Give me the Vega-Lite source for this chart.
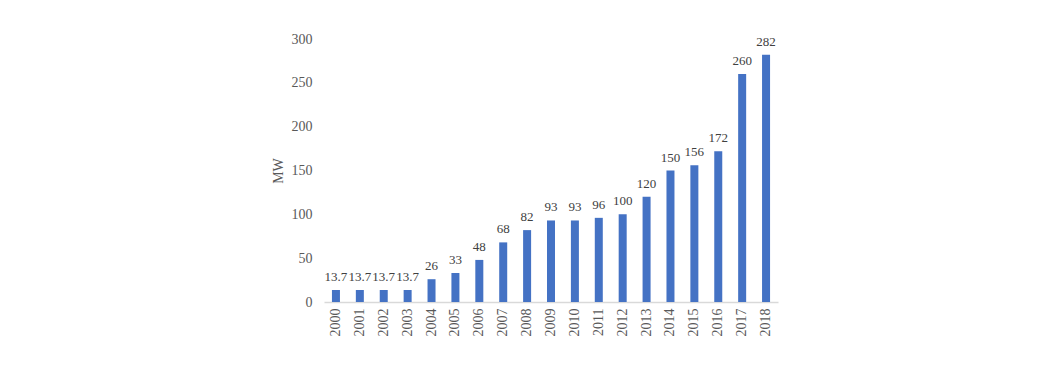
{
  "$schema": "https://vega.github.io/schema/vega-lite/v6.json",
  "autosize": {"type": "none"},
  "padding": {"left": 324, "top": 39, "right": 286, "bottom": 90},
  "width": 454,
  "height": 263,
  "background": "white",
  "config": {
    "view": {"stroke": null},
    "font": "Liberation Serif"
  },
  "data": {
    "values": [
      {"year": "2000", "mw": 13.7, "label": "13.7"},
      {"year": "2001", "mw": 13.7, "label": "13.7"},
      {"year": "2002", "mw": 13.7, "label": "13.7"},
      {"year": "2003", "mw": 13.7, "label": "13.7"},
      {"year": "2004", "mw": 26, "label": "26"},
      {"year": "2005", "mw": 33, "label": "33"},
      {"year": "2006", "mw": 48, "label": "48"},
      {"year": "2007", "mw": 68, "label": "68"},
      {"year": "2008", "mw": 82, "label": "82"},
      {"year": "2009", "mw": 93, "label": "93"},
      {"year": "2010", "mw": 93, "label": "93"},
      {"year": "2011", "mw": 96, "label": "96"},
      {"year": "2012", "mw": 100, "label": "100"},
      {"year": "2013", "mw": 120, "label": "120"},
      {"year": "2014", "mw": 150, "label": "150"},
      {"year": "2015", "mw": 156, "label": "156"},
      {"year": "2016", "mw": 172, "label": "172"},
      {"year": "2017", "mw": 260, "label": "260"},
      {"year": "2018", "mw": 282, "label": "282"}
    ]
  },
  "encoding": {
    "x": {
      "field": "year",
      "type": "ordinal",
      "scale": {"paddingInner": 0.665, "paddingOuter": 0.3325},
      "axis": {
        "title": null,
        "labelAngle": -90,
        "labelFontSize": 14,
        "labelColor": "#595959",
        "labelFont": "Liberation Serif",
        "labelPadding": 6,
        "ticks": false,
        "domainColor": "#d9d9d9",
        "domainWidth": 1.5
      }
    },
    "y": {
      "field": "mw",
      "type": "quantitative",
      "scale": {"domain": [0, 300]},
      "axis": {
        "title": "MW",
        "titleFont": "Liberation Serif",
        "titleFontWeight": "normal",
        "titleFontSize": 14,
        "titleColor": "#595959",
        "titlePadding": 6,
        "values": [0, 50, 100, 150, 200, 250, 300],
        "labelFontSize": 14,
        "labelColor": "#595959",
        "labelFont": "Liberation Serif",
        "labelPadding": 12,
        "ticks": false,
        "domain": false,
        "grid": false
      }
    }
  },
  "layer": [
    {"mark": {"type": "bar", "color": "#4472C4"}},
    {
      "mark": {"type": "text", "baseline": "bottom", "dy": -6, "fontSize": 13, "color": "#404040", "font": "Liberation Serif"},
      "encoding": {"text": {"field": "label"}}
    }
  ]
}
